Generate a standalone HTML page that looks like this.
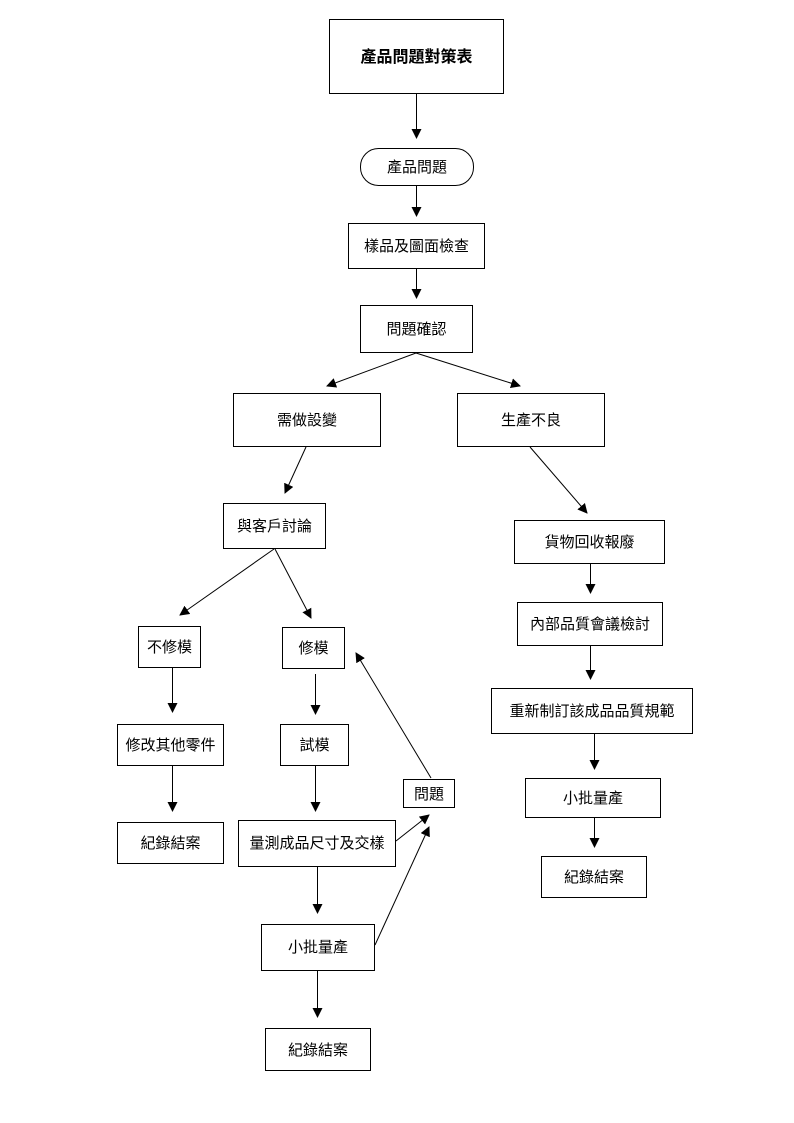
<!DOCTYPE html>
<html><head><meta charset="utf-8"><style>
html,body{margin:0;padding:0;background:#fff}
svg{display:block}
text{font-family:"Liberation Sans","Noto Sans CJK TC",sans-serif;font-size:15px;fill:#000}
</style></head><body>
<svg width="794" height="1123" viewBox="0 0 794 1123" xmlns="http://www.w3.org/2000/svg">
<defs><marker id="a" markerWidth="10" markerHeight="10" refX="9" refY="5" orient="auto" markerUnits="userSpaceOnUse"><path d="M0,0 L10,5 L0,10 z" fill="#000"/></marker></defs>
<g fill="none" stroke="#000" stroke-width="1">
<rect x="329.5" y="19.5" width="174" height="74"/>
<rect x="360.5" y="148.5" width="113" height="37" rx="18"/>
<rect x="348.5" y="223.5" width="136" height="45"/>
<rect x="360.5" y="305.5" width="112" height="47"/>
<rect x="233.5" y="393.5" width="147" height="53"/>
<rect x="457.5" y="393.5" width="147" height="53"/>
<rect x="223.5" y="503.5" width="102" height="45"/>
<rect x="138.5" y="626.5" width="62" height="41"/>
<rect x="282.5" y="627.5" width="62" height="41"/>
<rect x="117.5" y="724.5" width="106" height="41"/>
<rect x="280.5" y="724.5" width="68" height="41"/>
<rect x="117.5" y="822.5" width="106" height="41"/>
<rect x="238.5" y="820.5" width="157" height="46"/>
<rect x="403.5" y="779.5" width="51" height="28"/>
<rect x="261.5" y="924.5" width="113" height="46"/>
<rect x="265.5" y="1028.5" width="105" height="42"/>
<rect x="514.5" y="520.5" width="150" height="43"/>
<rect x="517.5" y="602.5" width="145" height="43"/>
<rect x="491.5" y="688.5" width="201" height="45"/>
<rect x="525.5" y="778.5" width="135" height="39"/>
<rect x="541.5" y="856.5" width="105" height="41"/>
</g>
<g stroke="#000" stroke-width="1" marker-end="url(#a)">
<line x1="416.5" y1="94" x2="416.5" y2="138"/>
<line x1="416.5" y1="186" x2="416.5" y2="216"/>
<line x1="416.5" y1="269" x2="416.5" y2="298"/>
<line x1="416" y1="353" x2="327" y2="386"/>
<line x1="416" y1="353" x2="520" y2="386"/>
<line x1="306" y1="447" x2="285" y2="493"/>
<line x1="530" y1="447" x2="587" y2="513"/>
<line x1="274" y1="549" x2="180" y2="615"/>
<line x1="275" y1="549" x2="311" y2="618"/>
<line x1="172.5" y1="668" x2="172.5" y2="712"/>
<line x1="315.5" y1="674" x2="315.5" y2="714"/>
<line x1="172.5" y1="766" x2="172.5" y2="811"/>
<line x1="315.5" y1="766" x2="315.5" y2="811"/>
<line x1="431" y1="778" x2="356" y2="653"/>
<line x1="396" y1="841" x2="429" y2="815"/>
<line x1="375" y1="945" x2="429" y2="827"/>
<line x1="317.5" y1="867" x2="317.5" y2="913"/>
<line x1="317.5" y1="971" x2="317.5" y2="1017"/>
<line x1="590.5" y1="564" x2="590.5" y2="593"/>
<line x1="590.5" y1="646" x2="590.5" y2="679"/>
<line x1="594.5" y1="734" x2="594.5" y2="769"/>
<line x1="594.5" y1="818" x2="594.5" y2="847"/>
</g>
<g text-anchor="middle">
<text x="416.5" y="62" style="font-weight:bold;font-size:16px">產品問題對策表</text>
<text x="417" y="172">產品問題</text>
<text x="416.5" y="251">樣品及圖面檢查</text>
<text x="416.5" y="334">問題確認</text>
<text x="307" y="425">需做設變</text>
<text x="531" y="425">生產不良</text>
<text x="274.5" y="531">與客戶討論</text>
<text x="169.5" y="652">不修模</text>
<text x="313.5" y="653">修模</text>
<text x="170.5" y="750">修改其他零件</text>
<text x="314.5" y="750">試模</text>
<text x="170.5" y="848">紀錄結案</text>
<text x="317" y="848">量測成品尺寸及交樣</text>
<text x="429" y="799">問題</text>
<text x="318" y="952">小批量產</text>
<text x="318" y="1055">紀錄結案</text>
<text x="589.5" y="547">貨物回收報廢</text>
<text x="590" y="629">內部品質會議檢討</text>
<text x="592" y="716">重新制訂該成品品質規範</text>
<text x="593" y="803">小批量產</text>
<text x="594" y="882">紀錄結案</text>
</g>
</svg>
</body></html>
